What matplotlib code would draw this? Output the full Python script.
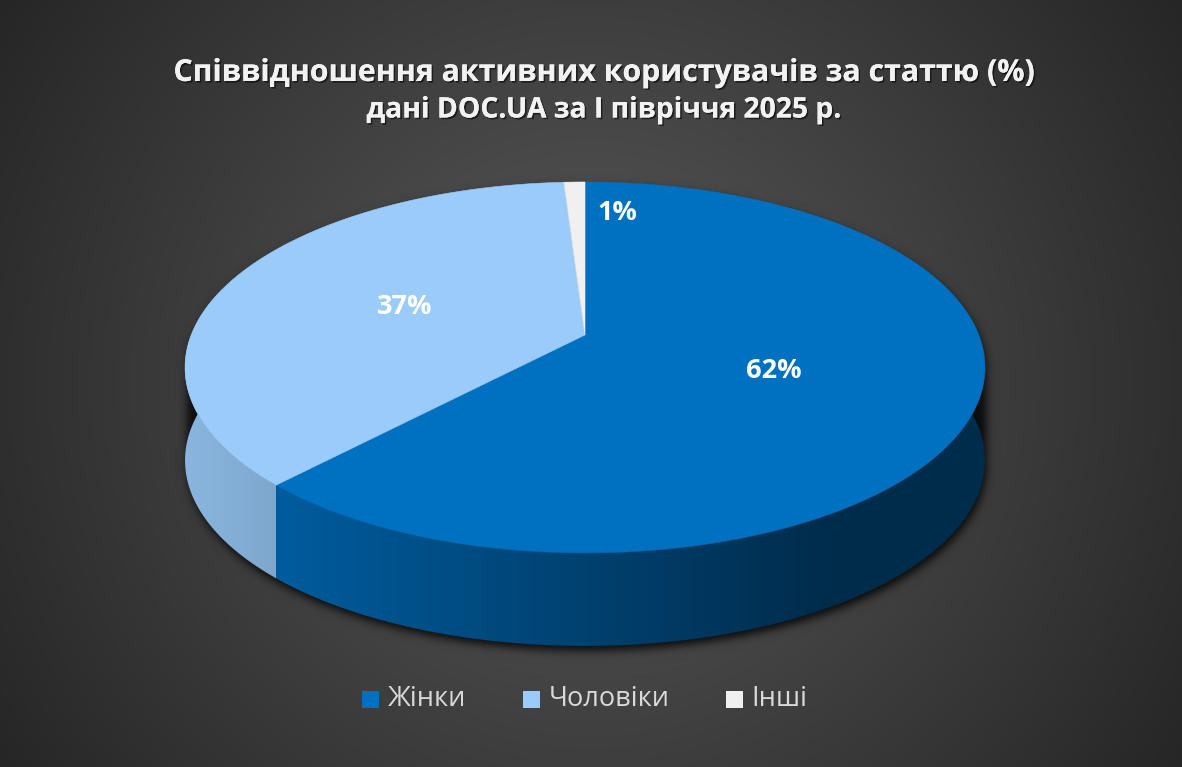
import numpy as np
import matplotlib
matplotlib.use('Agg')
import matplotlib.pyplot as plt
from matplotlib.patches import Polygon, Rectangle
import matplotlib.patheffects as pe

# ---------------- data ----------------
categories = ['Жінки', 'Чоловіки', 'Інші']
values = [62, 37, 1]
labels = ['62%', '37%', '1%']
colors = ['#0070C0', '#9ACBF9', '#F0F0F0']
title1 = 'Співвідношення активних користувачів за статтю (%)'
title2 = 'дані DOC.UA за I півріччя 2025 р.'

FONT = ['Open Sans', 'DejaVu Sans']
plt.rcParams['font.family'] = FONT

W, H = 1182, 767
fig = plt.figure(figsize=(W / 100, H / 100), dpi=100)
ax = fig.add_axes([0, 0, 1, 1])

# ---------------- background radial gradient ----------------
yy, xx = np.mgrid[0:H, 0:W] + 0.5
rr = np.hypot(xx - 591, yy - 383) / np.hypot(591, 383)
c = (90 - 52 * np.clip(rr, 0, 1)) / 255.0
bg = np.dstack([c, c, c])
ax.imshow(bg, extent=(0, W, H, 0), zorder=0, aspect='auto', interpolation='bilinear')

# ---------------- 3D pie geometry ----------------
CX, CY = 585, 335
A, B, K = 393.8, 179.8, 0.175
DEPTH = 93


def proj(theta, r=1.0):
    t = np.radians(theta)
    u = r * np.cos(t)
    v = -r * np.sin(t)
    w = 1 - K * v
    return CX + A * u / w, CY + B * v / w


total = float(sum(values))
cum = np.concatenate([[0], np.cumsum(values)]) / total
bounds = 90 - 360 * cum  # clockwise from top

# top-outline ellipse parameters (for shadow)
ts = np.linspace(0, 360, 1441)
px, py = proj(ts)
ex, ey = (px.max() + px.min()) / 2, (py.max() + py.min()) / 2
erx, ery = (px.max() - px.min()) / 2, (py.max() - py.min()) / 2

# ---------------- shadow ----------------
dmin = np.full(xx.shape, 1e9)
sx, sy = 2.0, 5.0
for sh in np.linspace(0, DEPTH, 12):
    dx = xx - (ex + sx)
    dy = yy - (ey + sh + sy)
    F = (dx / erx) ** 2 + (dy / ery) ** 2 - 1
    g = 2 * np.sqrt((dx / erx ** 2) ** 2 + (dy / ery ** 2) ** 2) + 1e-9
    dmin = np.minimum(dmin, F / g)
alpha = 0.8 / (1 + np.exp(np.clip(dmin / 2.6, -50, 50)))
shadow = np.zeros((H, W, 4))
shadow[..., 3] = alpha
ax.imshow(shadow, extent=(0, W, H, 0), zorder=1, aspect='auto', interpolation='bilinear')

# ---------------- sides (gradient clipped to each slice's wall) ----------------
shade_x = np.arange(W) + 0.5
shade = np.clip(0.82 + (0.40 - 0.82) * (shade_x - 280) / 540.0, 0.40, 0.90)
WIN_LO, WIN_HI = -195.0, 15.0
for i in range(len(values)):
    hi, lo = bounds[i], bounds[i + 1]
    for k in (-1, 0, 1):
        a_hi = min(hi + 360 * k, WIN_HI)
        a_lo = max(lo + 360 * k, WIN_LO)
        if a_hi <= a_lo:
            continue
        arc = np.linspace(a_hi, a_lo, 600)
        tx, ty = proj(arc)
        pts = list(zip(tx, ty)) + list(zip(tx[::-1], ty[::-1] + DEPTH))
        wall = Polygon(pts, closed=True, facecolor='none', edgecolor='none', zorder=2)
        ax.add_patch(wall)
        base = np.array(matplotlib.colors.to_rgb(colors[i]))
        grad = (shade[None, :, None] * base[None, None, :]).repeat(2, axis=0)
        im = ax.imshow(grad, extent=(0, W, H, 0), zorder=2, aspect='auto',
                       interpolation='bilinear')
        im.set_clip_path(wall)

# ---------------- top faces ----------------
for i in range(len(values)):
    arc = np.linspace(bounds[i], bounds[i + 1], 400)
    axp, ayp = proj(arc)
    pts = [(CX, CY)] + list(zip(axp, ayp))
    ax.add_patch(Polygon(pts, closed=True, facecolor=colors[i], edgecolor=colors[i],
                         linewidth=0.4, zorder=3))

# ---------------- data labels ----------------
lab_r = [0.5, 0.5, 0.79]
lab_dt = [0, 0, -8.7]
for i in range(len(values)):
    mid = (bounds[i] + bounds[i + 1]) / 2 + lab_dt[i]
    lx, ly = proj(mid, lab_r[i])
    ax.text(lx, ly + 1.5, labels[i], ha='center', va='center', color='white',
            fontsize=19.5, fontweight='bold', zorder=5)

# ---------------- titles ----------------
renderer = fig.canvas.get_renderer()


def fit(txt, target, **kw):
    t = ax.text(0, 0, txt, fontsize=20, **kw)
    w = t.get_window_extent(renderer).width
    t.remove()
    return 20 * target / w


shadow_fx = [pe.withSimplePatchShadow(offset=(1.2, -1.2), shadow_rgbFace='black', alpha=0.55), pe.Normal()]
s1 = fit(title1, 860, fontweight='bold')
s2 = fit(title2, 475, fontweight='bold')
ax.text(604, 73, title1, ha='center', va='center', color='#F2F2F2', fontsize=s1,
        fontweight='bold', zorder=6, path_effects=shadow_fx)
ax.text(604, 110, title2, ha='center', va='center', color='#F2F2F2', fontsize=s2,
        fontweight='bold', zorder=6, path_effects=shadow_fx)

# ---------------- legend ----------------
LEG_FS = 19.5
SQ = 17
GAP1, GAP2 = 9, 56
widths = []
for name in categories:
    t = ax.text(0, 0, name, fontsize=LEG_FS)
    widths.append(t.get_window_extent(renderer).width)
    t.remove()
tot = sum(SQ + GAP1 + w for w in widths) + GAP2 * (len(widths) - 1)
x = 585 - tot / 2
LY = 699
for i, name in enumerate(categories):
    ax.add_patch(Rectangle((x, LY - SQ / 2), SQ, SQ, facecolor=colors[i], edgecolor='none', zorder=6))
    ax.text(x + SQ + GAP1, LY, name, ha='left', va='center', color='#D9D9D9',
            fontsize=LEG_FS, zorder=6)
    x += SQ + GAP1 + widths[i] + GAP2

ax.set_xlim(0, W)
ax.set_ylim(H, 0)
ax.axis('off')
fig.savefig('out.png', dpi=100)
